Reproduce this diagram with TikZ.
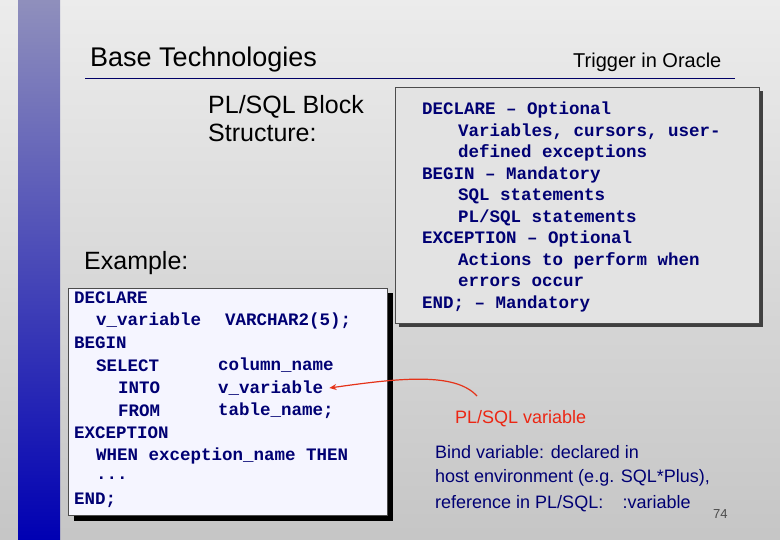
\documentclass[tikz,border=0pt]{standalone}
\usepackage{fontspec}
\setmainfont{Liberation Sans}
\newfontfamily\codefont{Liberation Mono}
\usetikzlibrary{arrows.meta}
\begin{document}
\begin{tikzpicture}[
x=1pt, y=-1pt,
code/.style={
font=\codefont\bfseries\fontsize{17.5}{20}\selectfont,
text=blue!45!black,
anchor=west,
inner sep=0pt,
},
note/.style={
font=\fontsize{18}{22}\selectfont,
anchor=west,
inner sep=0pt,
},
box/.style={
draw=black!70,
},
myarrow/.style={
-{Stealth[length=7pt,width=6pt]},
draw=red!60!brown,
line width=1.2pt,
},
]
\useasboundingbox (0,0) rectangle (780,540);
\shade[top color=white!85!gray, bottom color=gray!45] (0,0) rectangle (780,540);
\shade[top color=blue!25!gray!70, bottom color=blue!70!black] (18,0) rectangle (60,540);

% title
\node[note, font=\fontsize{27}{30}\selectfont] (title) at (90,60) {Base Technologies};
\node[note, font=\fontsize{20}{22}\selectfont] (sub) at (573,62) {Trigger in Oracle};
\draw[blue!40!black] (85,78) -- (735,78);

\node[note, font=\fontsize{25}{28}\selectfont, align=left, anchor=north west] (plsql) at (208,95) {PL/SQL Block\\Structure:};
\node[note, font=\fontsize{25}{28}\selectfont] (ex) at (84,263) {Example:};

% left code box
\fill[black] (74,293) rectangle (393,521);
\draw[box, fill=blue!4] (68,288) rectangle (387,515);
\node[code] (d) at (74,298) {DECLARE};
\node[code] at (96,320.5) {v\_variable};
\node[code] at (225,320.5) {VARCHAR2(5);};
\node[code] at (74,343) {BEGIN};
\node[code] at (96,365.5) {SELECT};
\node[code] at (218,365.5) {column\_name};
\node[code] at (118,388) {INTO};
\node[code] (var) at (218,388) {v\_variable};
\node[code] at (118,410.5) {FROM};
\node[code] at (218,410.5) {table\_name;};
\node[code] at (74,433) {EXCEPTION};
\node[code] at (96,455.5) {WHEN exception\_name THEN};
\node[code] at (96,478) {...};
\node[code] at (74,500.5) {END;};

% right box
\fill[black!75] (399,91) rectangle (763,327);
\draw[box, fill=gray!22] (395,87) rectangle (759,323);
\node[code] at (422,110) {DECLARE – Optional};
\node[code] at (458,131.5) {Variables, cursors,  user-};
\node[code] at (458,153) {defined exceptions};
\node[code] at (422,174.5) {BEGIN – Mandatory};
\node[code] at (458,196) {SQL statements};
\node[code] at (458,217.5) {PL/SQL statements};
\node[code] at (422,239) {EXCEPTION – Optional};
\node[code] at (458,260.5) {Actions to perform when};
\node[code] at (458,282) {errors occur};
\node[code] at (422,303.5) {END; – Mandatory};

% notes
\node[note, text=red!70!brown] (pv) at (455,419) {PL/SQL variable};
\node[note, text=blue!45!black] at (435,452) {Bind variable: declared in};
\node[note, text=blue!45!black] at (435,478) {host environment (e.g. SQL*Plus),};
\node[note, text=blue!45!black] (ref) at (435,504) {reference in PL/SQL: \hspace{0.8em}:variable};
\node[note, font=\fontsize{13}{15}\selectfont, text=gray!60!black] (pg) at (713,514) {74};

\draw[myarrow] (477,396) .. controls (455,372) and (400,378) .. ([xshift=6pt]var.east);
\end{tikzpicture}
\end{document}
